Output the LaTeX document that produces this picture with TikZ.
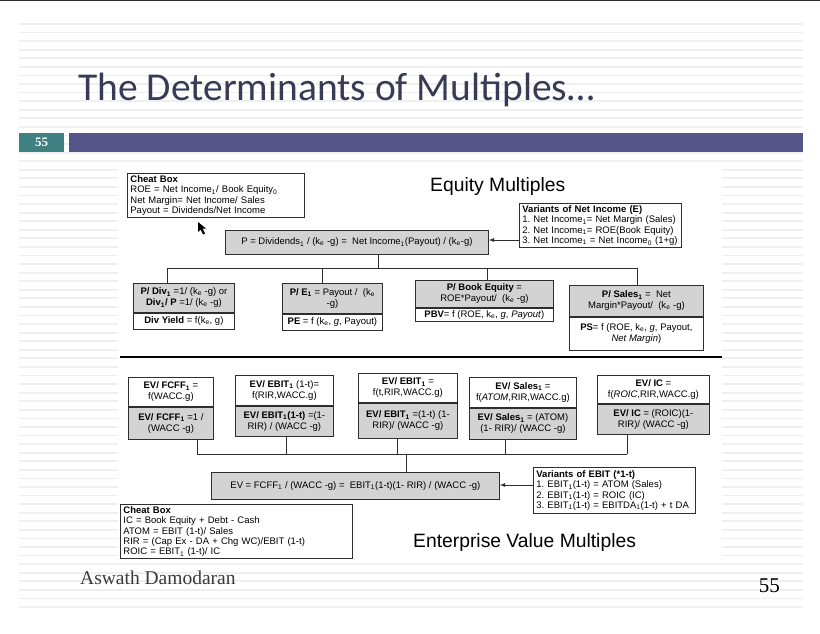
\documentclass[tikz,border=0pt]{standalone}
\usepackage{fontspec}
\setmainfont{Liberation Sans}
\newfontfamily\titlefont{Carlito}
\newfontfamily\timesfont{Liberation Serif}
\usepackage{xcolor}
\usepackage{tikz}
\usetikzlibrary{positioning,calc}

\definecolor{titleslate}{HTML}{383B55}
\definecolor{slideteal}{HTML}{3F8082}
\definecolor{slidepurple}{HTML}{55558A}
\definecolor{stripegray}{HTML}{EFEFEF}
\definecolor{boxgray}{HTML}{D3D3D3}
\definecolor{boxline}{HTML}{2E2E2E}
\definecolor{footgray}{HTML}{3A3A3A}

\newcommand{\sbs}[1]{\textsubscript{#1}}
\newcommand{\ke}{k\sbs{e}}

\tikzset{
  stripe/.style={draw=stripegray,line width=1.8pt},
  box/.style={draw=boxline,line width=0.8pt,inner sep=1pt,align=center,
    font=\fontsize{9.5}{11}\selectfont},
  graybox/.style={box,fill=boxgray},
  whitebox/.style={box,fill=white},
  notebox/.style={draw=boxline,line width=0.8pt,fill=white,align=left,
    anchor=north west,inner xsep=3pt,inner ysep=2pt,
    font=\fontsize{9.5}{10.4}\selectfont},
  link/.style={draw=boxline,line width=0.8pt},
  heading/.style={font=\fontsize{19.3}{22}\selectfont,inner sep=0pt,anchor=base west},
}

\begin{document}
\frenchspacing
\begin{tikzpicture}[x=1pt,y=-1pt]
\useasboundingbox[fill=white] (0,0) rectangle (820,634);
\draw[line width=1.5pt,draw=boxline] (0,0.7) -- (820,0.7);
% lined background
\foreach \i in {0,...,68}
  \draw[stripe] (19,{24+8.574*\i}) -- (803,{24+8.574*\i});
\node[font=\titlefont\fontsize{39.5}{44}\selectfont,text=titleslate,inner sep=0pt,anchor=base west] (title) at (78,100) {The Determinants of Multiples\dots};
\fill[slideteal] (19,133) rectangle (64,152);
\node[text=white,font=\timesfont\bfseries\fontsize{13}{15}\selectfont] (num) at (41.5,142.5) {55};
\fill[slidepurple] (69,133) rectangle (803,152);
% diagram sheet
\fill[white] (118,166) rectangle (722,561);

% equity multiples
\node[notebox,text width=171pt,minimum height=44pt] (cheatE) at (127,173)
  {\textbf{Cheat Box}\\ROE = Net Income\sbs{1}/ Book Equity\sbs{0}\\Net Margin= Net Income/ Sales\\Payout = Dividends/Net Income};
\node[heading] (eqtitle) at (430,191) {Equity Multiples};
\node[notebox,text width=156pt,minimum height=42pt] (varNI) at (519,203)
  {\textbf{Variants of Net Income (E)}\\1. Net Income\sbs{1}= Net Margin (Sales)\\2. Net Income\sbs{1}= ROE(Book Equity)\\3. Net Income\sbs{1} = Net Income\sbs{0} (1+g)};
\node[graybox,anchor=north west,minimum width=263pt,minimum height=24pt] (pval) at (225,230)
  {P = Dividends\sbs{1} / (\ke{} -g) = \ Net Income\sbs{1}(Payout) / (\ke-g)};
\draw[link,-latex] (varNI.west |- 0,240) -- (pval.east |- 0,240);
% cursor
\fill[black] (198,222) -- (198,232) -- (200.5,229.5) -- (203,234.5) -- (205,233.5) -- (202.5,228.5) -- (206,228.5) -- cycle;

\node[graybox,anchor=north west,minimum width=101pt,minimum height=29pt] (pdiv) at (133,283)
  {\textbf{P/ Div\sbs{1}} =1/ (\ke{} -g) or\\\textbf{Div\sbs{1}/ P} =1/ (\ke{} -g)};
\node[whitebox,minimum width=101pt,minimum height=16pt,below=0pt of pdiv] (dyield)
  {\textbf{Div Yield} = f(\ke, g)};
\node[graybox,anchor=north west,minimum width=100pt,minimum height=30pt] (pe) at (282,283)
  {\textbf{P/ E\sbs{1}} = Payout / \ (\ke\\-g)};
\node[whitebox,minimum width=100pt,minimum height=16pt,below=0pt of pe] (pef)
  {\textbf{PE} = f (\ke, \textit{g}, Payout)};
\node[graybox,anchor=north west,minimum width=138pt,minimum height=27pt] (pbv) at (415,280)
  {\textbf{P/ Book Equity} =\\ROE*Payout/ \ (\ke{} -g)};
\node[whitebox,minimum width=138pt,minimum height=13pt,below=0pt of pbv] (pbvf)
  {\textbf{PBV}= f (ROE, \ke, \textit{g}, \textit{Payout})};
\node[graybox,anchor=north west,minimum width=134pt,minimum height=31pt] (ps) at (569,285)
  {\textbf{P/ Sales\sbs{1}} = \ Net\\Margin*Payout/ \ (\ke{} -g)};
\node[whitebox,minimum width=134pt,minimum height=33pt,below=0pt of ps] (psf)
  {\textbf{PS}= f (ROE, \ke, \textit{g}, Payout,\\\textit{Net Margin})};

\coordinate (ej0) at (378,268);
\coordinate (ej1) at (167,268);
\coordinate (ej2) at (322,268);
\coordinate (ej3) at (487,268);
\coordinate (ej4) at (637,268);
\draw[link] (pval.south -| ej0) -- (ej0);
\draw[link] (ej1) -- (ej4);
\draw[link] (ej1) -- (ej1 |- pdiv.north);
\draw[link] (ej2) -- (ej2 |- pe.north);
\draw[link] (ej3) -- (ej3 |- pbv.north);
\draw[link] (ej4) -- (ej4 |- ps.north);

\draw[line width=2.6pt] (120,357) -- (722,357);

% enterprise value multiples
\node[whitebox,anchor=north west,minimum width=85pt,minimum height=29pt] (fcff) at (128,377)
  {\textbf{EV/ FCFF\sbs{1}} =\\f(WACC.g)};
\node[graybox,minimum width=85pt,minimum height=32pt,below=0pt of fcff] (fcffg)
  {\textbf{EV/ FCFF\sbs{1}} =1 /\\(WACC -g)};
\node[whitebox,anchor=north west,minimum width=98pt,minimum height=30pt] (ebitt) at (235,375)
  {\textbf{EV/ EBIT\sbs{1}} (1-t)=\\f(RIR,WACC.g)};
\node[graybox,minimum width=98pt,minimum height=30pt,below=0pt of ebitt] (ebittg)
  {\textbf{EV/ EBIT\sbs{1}(1-t)} =(1-\\RIR) / (WACC -g)};
\node[whitebox,anchor=north west,minimum width=99pt,minimum height=29pt] (ebit) at (358,373)
  {\textbf{EV/ EBIT\sbs{1}} =\\f(t,RIR,WACC.g)};
\node[graybox,minimum width=99pt,minimum height=35pt,below=0pt of ebit] (ebitg)
  {\textbf{EV/ EBIT\sbs{1}} =(1-t) (1-\\RIR)/ (WACC -g)};
\node[whitebox,anchor=north west,minimum width=107pt,minimum height=30pt] (sales) at (469,377)
  {\textbf{EV/ Sales\sbs{1}} =\\f(\textit{ATOM},RIR,WACC.g)};
\node[graybox,minimum width=107pt,minimum height=31pt,below=0pt of sales] (salesg)
  {\textbf{EV/ Sales\sbs{1}} = (ATOM)\\(1- RIR)/ (WACC -g)};
\node[whitebox,anchor=north west,minimum width=112pt,minimum height=28pt] (ic) at (597,375)
  {\textbf{EV/ IC} =\\f(\textit{ROIC},RIR,WACC.g)};
\node[graybox,minimum width=112pt,minimum height=30pt,below=0pt of ic] (icg)
  {\textbf{EV/ IC} = (ROIC)(1-\\RIR)/ (WACC -g)};

\node[graybox,anchor=north west,minimum width=288pt,minimum height=27pt] (evval) at (211,472)
  {EV = FCFF\sbs{1} / (WACC -g) = \ EBIT\sbs{1}(1-t)(1- RIR) / (WACC -g)};
\node[notebox,text width=156pt,minimum height=46pt] (varEBIT) at (533,467)
  {\textbf{Variants of EBIT (*1-t)}\\1. EBIT\sbs{1}(1-t) = ATOM (Sales)\\2. EBIT\sbs{1}(1-t) = ROIC (IC)\\3. EBIT\sbs{1}(1-t) = EBITDA\sbs{1}(1-t) + t DA};
\draw[link,-latex] (varEBIT.west |- 0,485) -- (evval.east |- 0,485);

\coordinate (vj0) at (406.5,454);
\coordinate (vj1) at (197,454);
\coordinate (vj2) at (286,454);
\coordinate (vj3) at (397,454);
\coordinate (vj4) at (505,454);
\coordinate (vj5) at (627,454);
\draw[link] (vj1) -- (vj5);
\draw[link] (vj1 |- fcffg.south) -- (vj1);
\draw[link] (vj2 |- ebittg.south) -- (vj2);
\draw[link] (vj3 |- ebitg.south) -- (vj3);
\draw[link] (vj4 |- salesg.south) -- (vj4);
\draw[link] (vj5 |- icg.south) -- (vj5);
\draw[link] (vj0) -- (vj0 |- evval.north);

\node[notebox,text width=226pt,minimum height=52pt] (cheatV) at (120,504)
  {\textbf{Cheat Box}\\IC = Book Equity + Debt - Cash\\ATOM = EBIT (1-t)/ Sales\\RIR = (Cap Ex - DA + Chg WC)/EBIT (1-t)\\ROIC = EBIT\sbs{1} (1-t)/ IC};
\node[heading] (evtitle) at (413,547) {Enterprise Value Multiples};

% footer
\node[font=\timesfont\fontsize{19.5}{22}\selectfont,text=footgray,inner sep=0pt,anchor=base west] (author) at (80,584) {Aswath Damodaran};
\node[font=\timesfont\fontsize{21}{24}\selectfont,text=black,inner sep=0pt,anchor=base east] (page) at (780,592) {55};
\end{tikzpicture}
\end{document}
